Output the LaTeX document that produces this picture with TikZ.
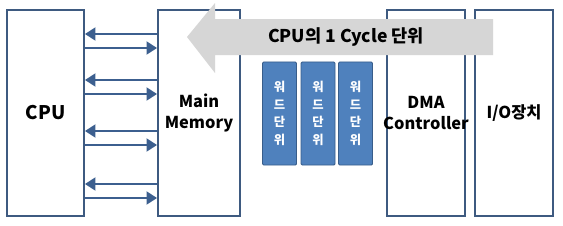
\documentclass[tikz,border=0pt]{standalone}
\usepackage{fontspec}
\setmainfont{Noto Sans CJK KR}
\usetikzlibrary{arrows.meta}
\definecolor{boxline}{HTML}{3E5A80}
\definecolor{busblue}{HTML}{3C5F8F}
\definecolor{wordfill}{HTML}{4F81BD}
\definecolor{wordline}{HTML}{385D8A}
\definecolor{cyclegray}{HTML}{D6D6D6}
\tikzset{
    unitbox/.style={draw=boxline, line width=1.6pt, fill=white, minimum height=6.18cm, inner sep=0pt},
    unitlabel/.style={align=center, font=\bfseries\fontsize{14}{17.5}\selectfont},
    wordbox/.style={draw=wordline, line width=0.8pt, fill=wordfill, rounded corners=1pt,
        minimum width=1.02cm, minimum height=3.09cm, text=white, align=center,
        font=\bfseries\fontsize{10.5}{15}\selectfont},
    busarrow/.style={draw=busblue, line width=2pt, -{Triangle[length=9pt,width=11pt]}}
}

\begin{document}
\begin{tikzpicture}[x=0.03cm, y=-0.03cm]
    \useasboundingbox (0,0) rectangle (563,225);

    % units
    \node[unitbox, minimum width=2.31cm,
        label={[unitlabel, font=\bfseries\fontsize{16}{18}\selectfont]center:CPU}] (cpu) at (45.5,113) {};
    \node[unitbox, minimum width=2.46cm,
        label={[unitlabel]center:Main\\Memory}] (mem) at (199,113) {};
    \node[unitbox, minimum width=2.34cm,
        label={[unitlabel]center:DMA\\Controller}] (dma) at (426,113) {};
    \node[unitbox, minimum width=2.34cm,
        label={[unitlabel]center:I/O장치}] (io) at (514,113) {};

    % bus between CPU and main memory
    \foreach \y in {34,80,131,184} {
        \draw[busarrow] (mem.west |- 0,\y) -- (cpu.east |- 0,\y);
        \draw[busarrow] (cpu.east |- 0,\y+14) -- (mem.west |- 0,\y+14);
    }

    % word units
    \foreach \x/\n in {279.5/w1, 318/w2, 355.5/w3}
        \node[wordbox] (\n) at (\x,113.5) {워\\드\\단\\위};

    % one CPU cycle
    \fill[cyclegray] (187,37) -- (215,3) -- (215,19) -- (493,19)
        -- (493,55) -- (215,55) -- (215,73) -- cycle;
    \node[font=\bfseries\fontsize{15}{17}\selectfont] (cycle) at (346,37) {CPU의 1 Cycle 단위};
\end{tikzpicture}
\end{document}
